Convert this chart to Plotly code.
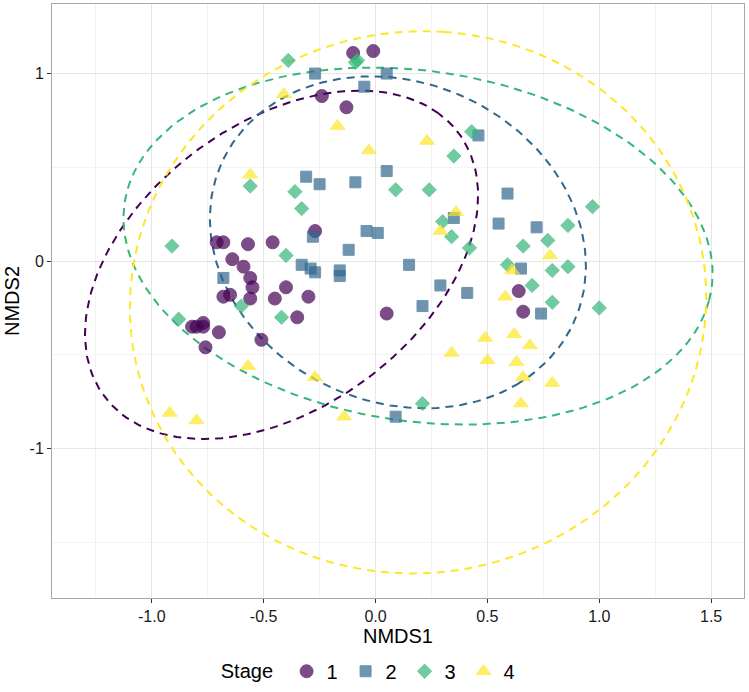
"""
NMDS ordination of samples by stage, with dashed confidence ellipses per stage.
"""

import numpy as np
import plotly.graph_objects as go

# --- data ----------------------------------------------------------------
stages = ["1", "2", "3", "4"]

stage1_x = [-0.10, -0.01, -0.24, -0.13, -0.27, -0.71, -0.68, -0.57, -0.46, -0.64,
            -0.59, -0.56, -0.55, -0.68, -0.65, -0.56, -0.45, -0.40, -0.30, -0.35,
            -0.82, -0.80, -0.77, -0.77, -0.70, -0.76, -0.51, 0.05, 0.64, 0.66]
stage1_y = [1.11, 1.12, 0.88, 0.82, 0.16, 0.10, 0.10, 0.09, 0.10, 0.01,
            -0.03, -0.09, -0.14, -0.19, -0.18, -0.20, -0.20, -0.14, -0.19, -0.30,
            -0.35, -0.35, -0.33, -0.35, -0.38, -0.46, -0.42, -0.28, -0.16, -0.27]

stage2_x = [-0.27, 0.05, -0.05, 0.46, -0.31, -0.25, -0.09, 0.05, -0.04, 0.01,
            -0.12, -0.28, -0.33, -0.29, -0.27, -0.16, -0.16, -0.68, 0.59, 0.55,
            0.72, 0.35, 0.15, 0.65, 0.29, 0.41, 0.21, 0.74, 0.09]
stage2_y = [1.00, 1.00, 0.93, 0.67, 0.45, 0.41, 0.42, 0.48, 0.16, 0.15,
            0.06, 0.13, -0.02, -0.04, -0.06, -0.05, -0.08, -0.09, 0.36, 0.20,
            0.18, 0.23, -0.02, -0.04, -0.13, -0.17, -0.24, -0.28, -0.83]

stage3_x = [-0.39, -0.09, -0.08, -0.56, -0.36, -0.33, -0.91, -0.40, 0.09, -0.60,
            -0.42, -0.88, 0.43, 0.35, 0.24, 0.30, 0.34, 0.42, 0.97, 0.86,
            0.66, 0.77, 0.59, 0.79, 0.86, 0.70, 0.79, 1.00, 0.21]
stage3_y = [1.07, 1.06, 1.07, 0.40, 0.37, 0.28, 0.08, 0.03, 0.38, -0.24,
            -0.30, -0.31, 0.69, 0.56, 0.38, 0.21, 0.13, 0.07, 0.29, 0.19,
            0.08, 0.11, -0.02, -0.05, -0.03, -0.13, -0.22, -0.25, -0.76]

stage4_x = [-0.41, -0.17, -0.03, 0.23, -0.56, 0.36, 0.29, 0.78, 0.61, 0.58,
            0.49, 0.62, 0.69, 0.34, 0.50, 0.63, 0.66, 0.79, 0.65, -0.57,
            -0.27, -0.92, -0.80, -0.14]
stage4_y = [0.89, 0.72, 0.59, 0.64, 0.46, 0.26, 0.16, 0.03, -0.05, -0.19,
            -0.41, -0.39, -0.45, -0.49, -0.53, -0.54, -0.62, -0.65, -0.76, -0.56,
            -0.62, -0.81, -0.85, -0.83]

# ellipse fits per stage: centre, semi-axes, rotation (degrees)
ell_cx = [-0.42, 0.10, 0.19, 0.19]
ell_cy = [-0.02, 0.10, 0.08, -0.22]
ell_a = [1.07, 0.926, 1.333, 1.447]
ell_b = [0.70, 0.795, 0.929, 1.287]
ell_angle = [49, -55, -12.6, 85.3]

x_ticks = [-1.0, -0.5, 0.0, 0.5, 1.0, 1.5]
x_ticklabels = ["-1.0", "-0.5", "0.0", "0.5", "1.0", "1.5"]
y_ticks = [-1, 0, 1]
y_ticklabels = ["-1", "0", "1"]

# --- styling --------------------------------------------------------------
colors = ["#440154", "#31688E", "#35B779", "#FDE725"]
symbols = ["circle", "square", "diamond", "triangle-up"]
sizes = [13, 11, 11, 13]

xs = [stage1_x, stage2_x, stage3_x, stage4_x]
ys = [stage1_y, stage2_y, stage3_y, stage4_y]

fig = go.Figure()

# ellipses first so points sit on top
t = np.linspace(0, 2 * np.pi, 200)
for i in range(len(stages)):
    th = np.radians(ell_angle[i])
    ex = ell_cx[i] + ell_a[i] * np.cos(t) * np.cos(th) - ell_b[i] * np.sin(t) * np.sin(th)
    ey = ell_cy[i] + ell_a[i] * np.cos(t) * np.sin(th) + ell_b[i] * np.sin(t) * np.cos(th)
    fig.add_trace(go.Scatter(
        x=ex, y=ey, mode="lines",
        line={'color': colors[i], 'width': 2, 'dash': "8px,6px"},
        showlegend=False, hoverinfo='skip'
    ))

for i, s in enumerate(stages):
    fig.add_trace(go.Scatter(
        x=xs[i], y=ys[i], mode="markers", name=s,
        marker={'symbol': symbols[i], 'size': sizes[i], 'color': colors[i],
                'opacity': 0.7, 'line': {'color': colors[i], 'width': 1}},
    ))

axis_common = dict(
    showline=True, linecolor="#A8A8A8", linewidth=1, mirror=True,
    ticks="outside", ticklen=4, tickcolor="#333333",
    gridcolor="#E6E6E6", gridwidth=1, zeroline=False, automargin=False,
    tickfont={'size': 16, 'color': "#1a1a1a"},
)

fig.update_xaxes(
    range=[-1.446, 1.647], tickvals=x_ticks, ticktext=x_ticklabels,
    minor={'tickvals': [-1.25, -0.75, -0.25, 0.25, 0.75, 1.25],
           'showgrid': True, 'gridcolor': "#F3F3F3", 'gridwidth': 0.6, 'ticks': ""},
    title={'text': "NMDS1", 'font': {'size': 20, 'color': "black"}, 'standoff': 3},
    **axis_common
)
fig.update_yaxes(
    range=[-1.797, 1.371], tickvals=y_ticks, ticktext=y_ticklabels,
    minor={'tickvals': [-1.5, -0.5, 0.5],
           'showgrid': True, 'gridcolor': "#F3F3F3", 'gridwidth': 0.6, 'ticks': ""},
    title={'text': "NMDS2", 'font': {'size': 20, 'color': "black"}, 'standoff': 4},
    **axis_common
)

fig.update_layout(
    width=749, height=692,
    margin={'l': 52, 'r': 5, 't': 4, 'b': 94, 'autoexpand': False},
    plot_bgcolor="white", paper_bgcolor="white",
    font={'family': "Liberation Sans, Arial, sans-serif", 'color': "black"},
    legend={
        'orientation': "h", 'xref': "container", 'yref': "container",
        'x': 0.495, 'xanchor': "center", 'y': 0.03, 'yanchor': "middle",
        'title': {'text': "Stage ", 'font': {'size': 20}},
        'font': {'size': 20}, 'itemwidth': 30,
        'entrywidth': 14, 'entrywidthmode': "pixels",
    },
)

fig.write_html("out.html", config={'displayModeBar': False},
               post_script="document.body.style.margin = '0';")
